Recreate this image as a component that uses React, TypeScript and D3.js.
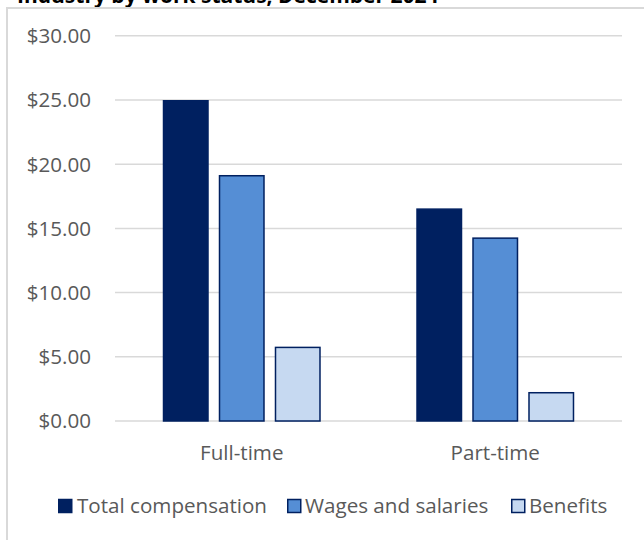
import React from "react";
import * as d3 from "d3";

const title = "Industry by work status, December 2024";
const categories = ["Full-time", "Part-time"];
const seriesNames = ["Total compensation", "Wages and salaries", "Benefits"];
const totalComp = [25.0, 16.56];
const wages = [19.16, 14.3];
const benefits = [5.79, 2.26];
const yTicks = [0, 5, 10, 15, 20, 25, 30];

const seriesValues = [totalComp, wages, benefits];
const fills = ["#002060", "#558ED5", "#C6D9F1"];
const strokes = ["#002060", "#002060", "#002060"];

const W = 644;
const H = 540;
const FONT = "'Open Sans', sans-serif";
const FS = 20.6;

export default function App() {
  const x0 = d3.scaleBand<string>().domain(categories).range([115, 622]).padding(0);
  const x1 = d3
    .scaleBand<string>()
    .domain(seriesNames)
    .range([0, x0.bandwidth()])
    .paddingInner(0.1786)
    .paddingOuter(0.853);
  const y = d3.scaleLinear().domain([0, 30]).range([421, 35.8]);
  const fmt = (v: number) => "$" + d3.format(".2f")(v);

  const legendItems = [
    { name: seriesNames[0], sx: 58, tx: 77 },
    { name: seriesNames[1], sx: 287, tx: 305 },
    { name: seriesNames[2], sx: 511, tx: 529 },
  ];

  return (
    <svg
      width={W}
      height={H}
      style={{ position: "absolute", left: 0, top: 0, background: "#fff" }}
      fontFamily={FONT}
    >
      <rect x={0} y={0} width={W} height={H} fill="#fff" />
      <text x={17} y={3} fontSize={21} fontWeight="bold" fill="#000">
        {title}
      </text>
      {/* frame */}
      <line x1={7} x2={W} y1={8} y2={8} stroke="#d9d9d9" strokeWidth={2} />
      <line x1={7} x2={7} y1={7} y2={H} stroke="#d9d9d9" strokeWidth={2} />

      {/* gridlines & y labels */}
      {yTicks.map((t) => (
        <g key={t}>
          <line x1={115} x2={622} y1={y(t)} y2={y(t)} stroke="#d9d9d9" strokeWidth={1.5} />
          <text
            x={91}
            y={y(t)}
            dy="0.36em"
            textAnchor="end"
            fontSize={FS}
            fill="#595959"
          >
            {fmt(t)}
          </text>
        </g>
      ))}

      {/* bars */}
      {categories.map((c, ci) => (
        <g key={c} transform={`translate(${x0(c)},0)`}>
          {seriesNames.map((s, si) => {
            const v = seriesValues[si][ci];
            return (
              <rect
                key={s}
                x={x1(s)! + 0.75}
                y={y(v) + 0.75}
                width={x1.bandwidth() - 1.5}
                height={y(0) - y(v) - 0.75}
                fill={fills[si]}
                stroke={strokes[si]}
                strokeWidth={1.5}
              />
            );
          })}
          <text
            x={x0.bandwidth() / 2}
            y={460}
            textAnchor="middle"
            fontSize={FS}
            fill="#595959"
          >
            {c}
          </text>
        </g>
      ))}

      {/* legend */}
      {legendItems.map((it, i) => (
        <g key={it.name}>
          <rect
            x={it.sx + 0.75}
            y={499.5}
            width={13}
            height={13}
            fill={fills[i]}
            stroke={strokes[i]}
            strokeWidth={1.5}
          />
          <text x={it.tx} y={513} fontSize={FS} fill="#595959">
            {it.name}
          </text>
        </g>
      ))}
    </svg>
  );
}
